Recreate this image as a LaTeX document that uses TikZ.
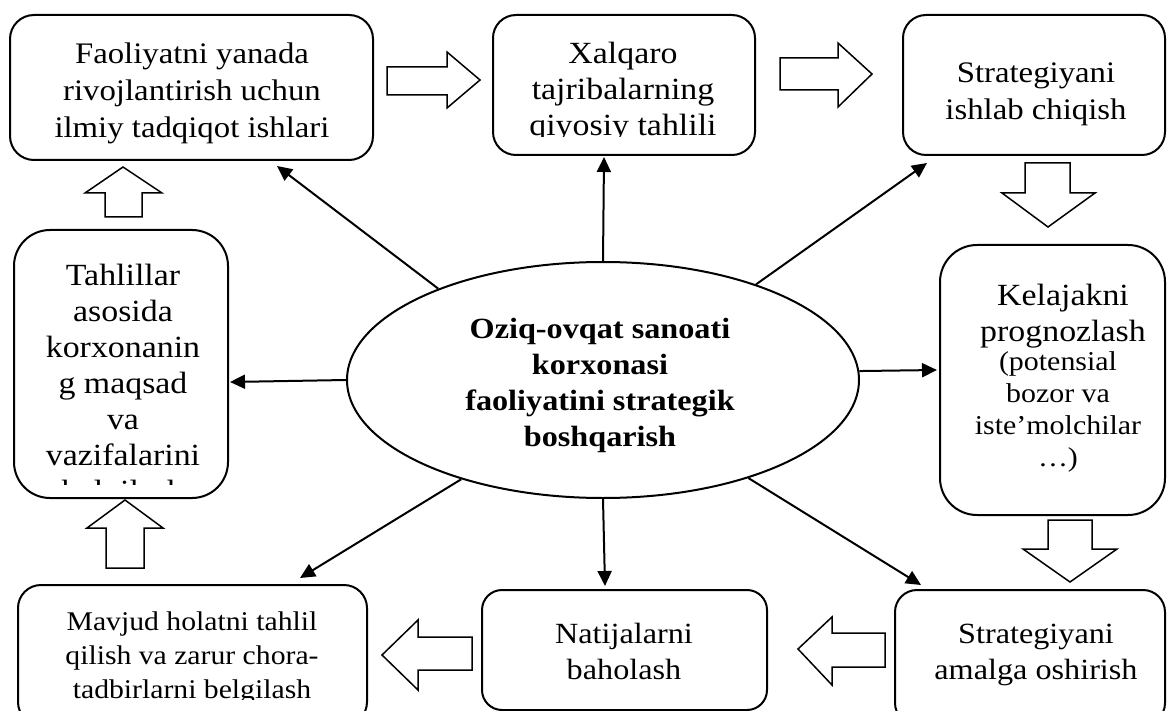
\documentclass[tikz,border=0pt]{standalone}
\usepackage{fontspec}
\setmainfont{Liberation Serif}[FakeStretch=1.1]
\usetikzlibrary{arrows.meta,shapes.geometric}
\begin{document}
\begin{tikzpicture}[x=1pt,y=-1pt,
  box/.style={draw, line width=2pt, inner sep=0pt, outer sep=0pt},
  txt/.style={align=center, inner sep=0pt, anchor=north, font=\fontsize{29.3}{36}\selectfont},
  bigtxt/.style={txt, font=\fontsize{30.8}{36}\selectfont},
  midtxt/.style={txt, font=\fontsize{29.8}{37}\selectfont},
  lowtxt/.style={txt, font=\fontsize{27}{34}\selectfont},
  smalltxt/.style={align=center, inner sep=0pt, anchor=north, font=\fontsize{27.2}{32}\selectfont},
  boldtxt/.style={align=center, inner sep=0pt, anchor=north, font=\fontsize{29.3}{36}\selectfont\bfseries},
  conn/.style={line width=2pt, -{Triangle[length=15pt,width=14pt]}},
  blk/.style={draw, line width=1.5pt, line join=miter, fill=white}]
\clip (0,0) rectangle (1167,711);

% boxes
\node[box, minimum width=363pt, minimum height=145pt, rounded corners=24pt] (b1) at (191.5,87.5) {};
\node[box, minimum width=262pt, minimum height=140pt, rounded corners=23pt] (b2) at (624,85) {};
\node[box, minimum width=262pt, minimum height=140pt, rounded corners=23pt] (b3) at (1034,85) {};
\node[box, minimum width=214pt, minimum height=268pt, rounded corners=36pt] (b4) at (121,364) {};
\node[box, minimum width=225pt, minimum height=270pt, rounded corners=37pt] (b5) at (1052.5,380) {};
\node[box, minimum width=349pt, minimum height=140pt, rounded corners=23pt] (b6) at (192.5,655) {};
\node[box, minimum width=285pt, minimum height=120pt, rounded corners=20pt] (b7) at (624.5,650) {};
\node[box, minimum width=270pt, minimum height=135pt, rounded corners=22pt] (b8) at (1030,657.5) {};

% ellipse
\node[draw, line width=2pt, ellipse, minimum width=512pt, minimum height=236pt, inner sep=0pt] (ell) at (603,380) {};
\node[boldtxt] (et) at (600,312.8) {\strut Oziq-ovqat sanoati\\korxonasi\\faoliyatini strategik\\boshqarish};

% texts
\node[midtxt] (x1) at (192,37.1) {\strut Faoliyatni yanada\\rivojlantirish uchun\\ilmiy tadqiqot ishlari};
\begin{scope}
\clip (493,15) rectangle (755,137);
\node[bigtxt] (x2) at (623,37.8) {\strut Xalqaro\\tajribalarning\\qiyosiy tahlili};
\end{scope}
\node[midtxt] (x3) at (1036,56.1) {\strut Strategiyani\\ishlab chiqish};
\begin{scope}
\clip (14,230) rectangle (228,484);
\node[bigtxt] (x4) at (123,259.8) {\strut Tahlillar\\asosida\\korxonanin\\g maqsad\\va\\vazifalarini\\belgilash};
\end{scope}
\node[bigtxt] (x5) at (1063,279.8) {\strut Kelajakni\\prognozlash};
\node[smalltxt] (x5b) at (1058,347.6) {\strut(potensial\\bozor va\\iste’molchilar\\…)};
\begin{scope}
\clip (18,585) rectangle (367,699);
\node[lowtxt] (x6) at (192,606.2) {\strut Mavjud holatni tahlil\\qilish va zarur chora-\\tadbirlarni belgilash};
\end{scope}
\node[txt] (x7) at (624,617.8) {\strut Natijalarni\\baholash};
\node[txt] (x8) at (1036,617.8) {\strut Strategiyani\\amalga oshirish};

% connector tips
\coordinate (t1) at (277,166);
\coordinate (t2) at (604,157);
\coordinate (t3) at (927,163);
\coordinate (t4) at (230,382);
\coordinate (t5) at (937,370);
\coordinate (t6) at (300,578);
\coordinate (t7) at (605,586);
\coordinate (t8) at (921,585);

\draw[conn] (ell.151) -- (t1);
\draw[conn] (ell.north) -- (t2);
\draw[conn] (ell.32) -- (t3);
\draw[conn] (ell.180) -- (t4);
\draw[conn] (ell.2) -- (t5);
\draw[conn] (ell.215) -- (t6);
\draw[conn] (ell.south) -- (t7);
\draw[conn] (ell.326) -- (t8);

% block arrows
\draw[blk] (387,67) -- (447,67) -- (447,52) -- (480,80) -- (447,108) -- (447,95) -- (387,95) -- cycle;
\draw[blk] (780,58) -- (838,58) -- (838,43) -- (872,74) -- (838,107) -- (838,90) -- (780,90) -- cycle;
\draw[blk] (1025,163) -- (1070,163) -- (1070,193) -- (1095,193) -- (1048,227) -- (1002,193) -- (1025,193) -- cycle;
\draw[blk] (1048,520) -- (1092,520) -- (1092,549) -- (1117,549) -- (1070,582) -- (1023,549) -- (1048,549) -- cycle;
\draw[blk] (885,633) -- (832,633) -- (832,617) -- (798,649) -- (832,685) -- (832,667) -- (885,667) -- cycle;
\draw[blk] (472,637) -- (418,637) -- (418,620) -- (382,655) -- (418,690) -- (418,670) -- (472,670) -- cycle;
\draw[blk] (106,568) -- (106,528) -- (87,528) -- (125,500) -- (163,528) -- (144,528) -- (144,568) -- cycle;
\draw[blk] (105,217) -- (105,193) -- (85,193) -- (123,167) -- (162,193) -- (142,193) -- (142,217) -- cycle;
\end{tikzpicture}
\end{document}
